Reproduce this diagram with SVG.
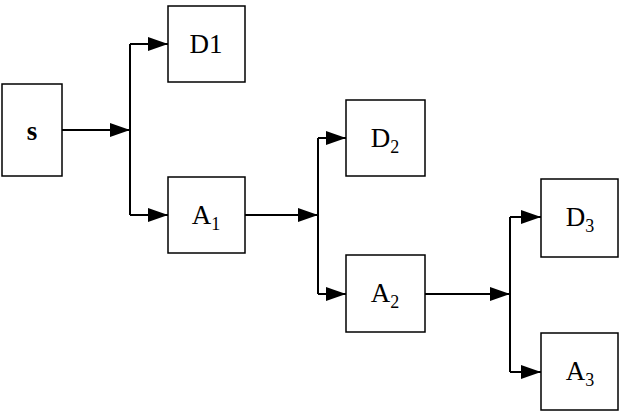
<svg xmlns="http://www.w3.org/2000/svg" width="619" height="412" viewBox="0 0 619 412">
<style>
.b{fill:#fff;stroke:#000;stroke-width:1.5}
.t{font-family:"Liberation Serif",serif;font-size:27px;text-anchor:middle}
.s{font-size:18px}
.c{stroke:#000;stroke-width:2;fill:none}
</style>
<defs><marker id="a" markerWidth="10" markerHeight="8" refX="10" refY="4" orient="auto" markerUnits="userSpaceOnUse" viewBox="0 0 10 8"><path d="M0,0L10,4L0,8z"/></marker></defs>
<defs><marker id="m" markerWidth="20" markerHeight="14" refX="20" refY="7" orient="auto" markerUnits="userSpaceOnUse"><path d="M0,0L20,7L0,14z"/></marker></defs>
<g id="connectors">
<path class="c" d="M62,130H130" marker-end="url(#m)"/>
<path class="c" d="M130,44V215"/>
<path class="c" d="M130,44H168" marker-end="url(#m)"/>
<path class="c" d="M130,215H168" marker-end="url(#m)"/>
<path class="c" d="M245,215H318" marker-end="url(#m)"/>
<path class="c" d="M318,138V294"/>
<path class="c" d="M318,138H346" marker-end="url(#m)"/>
<path class="c" d="M318,294H346" marker-end="url(#m)"/>
<path class="c" d="M425,294H510" marker-end="url(#m)"/>
<path class="c" d="M510,217V372"/>
<path class="c" d="M510,217H541" marker-end="url(#m)"/>
<path class="c" d="M510,372H541" marker-end="url(#m)"/>
</g>
<g id="s"><rect class="b" x="2" y="84" width="60" height="92"/><text class="t" x="32" y="140" font-weight="bold">s</text></g>
<g id="D1"><rect class="b" x="168" y="6" width="77" height="76"/><text class="t" x="206" y="53">D1</text></g>
<g id="A1"><rect class="b" x="168" y="177" width="77" height="76"/><text class="t" x="206" y="224">A<tspan class="s" dy="6">1</tspan></text></g>
<g id="D2"><rect class="b" x="346" y="100" width="79" height="76"/><text class="t" x="385" y="147">D<tspan class="s" dy="6">2</tspan></text></g>
<g id="A2"><rect class="b" x="346" y="255" width="79" height="77"/><text class="t" x="385" y="302">A<tspan class="s" dy="6">2</tspan></text></g>
<g id="D3"><rect class="b" x="541" y="179" width="77" height="78"/><text class="t" x="580" y="226">D<tspan class="s" dy="6">3</tspan></text></g>
<g id="A3"><rect class="b" x="541" y="333" width="77" height="77"/><text class="t" x="580" y="380">A<tspan class="s" dy="6">3</tspan></text></g>
</svg>
